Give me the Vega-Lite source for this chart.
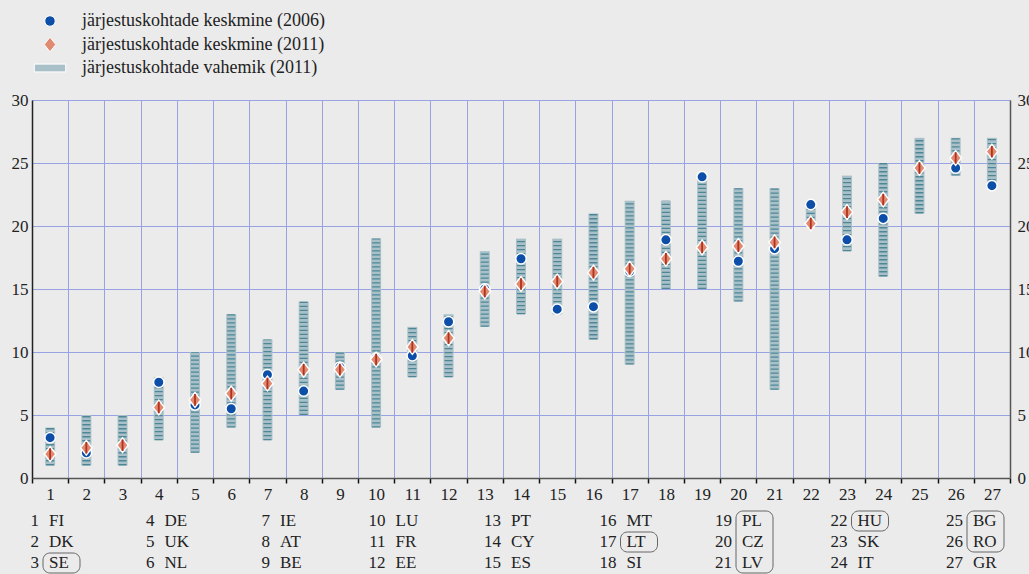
{
  "$schema": "https://vega.github.io/schema/vega-lite/v6.json",
  "autosize": {"type": "none"},
  "padding": {"left": 32, "top": 100, "right": 19, "bottom": 96},
  "width": 978,
  "height": 378,
  "background": "#ebebeb",
  "config": {
    "view": {"stroke": null},
    "font": "Liberation Serif",
    "text": {"font": "Liberation Serif"}
  },
  "datasets": {
    "main": [
      {"n": 1, "lo": 1, "hi": 4, "k2006": 3.2, "k2011": 1.9},
      {"n": 2, "lo": 1, "hi": 5, "k2006": 2.0, "k2011": 2.4},
      {"n": 3, "lo": 1, "hi": 5, "k2006": null, "k2011": 2.6},
      {"n": 4, "lo": 3, "hi": 8, "k2006": 7.6, "k2011": 5.6},
      {"n": 5, "lo": 2, "hi": 10, "k2006": 5.8, "k2011": 6.2},
      {"n": 6, "lo": 4, "hi": 13, "k2006": 5.5, "k2011": 6.7},
      {"n": 7, "lo": 3, "hi": 11, "k2006": 8.2, "k2011": 7.5},
      {"n": 8, "lo": 5, "hi": 14, "k2006": 6.9, "k2011": 8.6},
      {"n": 9, "lo": 7, "hi": 10, "k2006": 8.8, "k2011": 8.6},
      {"n": 10, "lo": 4, "hi": 19, "k2006": 9.5, "k2011": 9.4},
      {"n": 11, "lo": 8, "hi": 12, "k2006": 9.7, "k2011": 10.4},
      {"n": 12, "lo": 8, "hi": 13, "k2006": 12.4, "k2011": 11.1},
      {"n": 13, "lo": 12, "hi": 18, "k2006": 15.0, "k2011": 14.8},
      {"n": 14, "lo": 13, "hi": 19, "k2006": 17.4, "k2011": 15.4},
      {"n": 15, "lo": 13, "hi": 19, "k2006": 13.4, "k2011": 15.6},
      {"n": 16, "lo": 11, "hi": 21, "k2006": 13.6, "k2011": 16.3},
      {"n": 17, "lo": 9, "hi": 22, "k2006": 16.4, "k2011": 16.6},
      {"n": 18, "lo": 15, "hi": 22, "k2006": 18.9, "k2011": 17.4},
      {"n": 19, "lo": 15, "hi": 24, "k2006": 23.9, "k2011": 18.3},
      {"n": 20, "lo": 14, "hi": 23, "k2006": 17.2, "k2011": 18.4},
      {"n": 21, "lo": 7, "hi": 23, "k2006": 18.2, "k2011": 18.7},
      {"n": 22, "lo": 20, "hi": 22, "k2006": 21.7, "k2011": 20.2},
      {"n": 23, "lo": 18, "hi": 24, "k2006": 18.9, "k2011": 21.1},
      {"n": 24, "lo": 16, "hi": 25, "k2006": 20.6, "k2011": 22.1},
      {"n": 25, "lo": 21, "hi": 27, "k2006": null, "k2011": 24.6},
      {"n": 26, "lo": 24, "hi": 27, "k2006": 24.6, "k2011": 25.4},
      {"n": 27, "lo": 23, "hi": 27, "k2006": 23.2, "k2011": 25.9}
    ],
    "countries": [
      {"col": 0, "row": 1, "num": "1", "code": "FI"},
      {"col": 0, "row": 2, "num": "2", "code": "DK"},
      {"col": 0, "row": 3, "num": "3", "code": "SE"},
      {"col": 1, "row": 1, "num": "4", "code": "DE"},
      {"col": 1, "row": 2, "num": "5", "code": "UK"},
      {"col": 1, "row": 3, "num": "6", "code": "NL"},
      {"col": 2, "row": 1, "num": "7", "code": "IE"},
      {"col": 2, "row": 2, "num": "8", "code": "AT"},
      {"col": 2, "row": 3, "num": "9", "code": "BE"},
      {"col": 3, "row": 1, "num": "10", "code": "LU"},
      {"col": 3, "row": 2, "num": "11", "code": "FR"},
      {"col": 3, "row": 3, "num": "12", "code": "EE"},
      {"col": 4, "row": 1, "num": "13", "code": "PT"},
      {"col": 4, "row": 2, "num": "14", "code": "CY"},
      {"col": 4, "row": 3, "num": "15", "code": "ES"},
      {"col": 5, "row": 1, "num": "16", "code": "MT"},
      {"col": 5, "row": 2, "num": "17", "code": "LT"},
      {"col": 5, "row": 3, "num": "18", "code": "SI"},
      {"col": 6, "row": 1, "num": "19", "code": "PL"},
      {"col": 6, "row": 2, "num": "20", "code": "CZ"},
      {"col": 6, "row": 3, "num": "21", "code": "LV"},
      {"col": 7, "row": 1, "num": "22", "code": "HU"},
      {"col": 7, "row": 2, "num": "23", "code": "SK"},
      {"col": 7, "row": 3, "num": "24", "code": "IT"},
      {"col": 8, "row": 1, "num": "25", "code": "BG"},
      {"col": 8, "row": 2, "num": "26", "code": "RO"},
      {"col": 8, "row": 3, "num": "27", "code": "GR"}
    ],
    "boxes": [
      {"col": 0, "r0": 3, "r1": 3},
      {"col": 5, "r0": 2, "r1": 2},
      {"col": 6, "r0": 1, "r1": 3},
      {"col": 7, "r0": 1, "r1": 1},
      {"col": 8, "r0": 1, "r1": 2}
    ]
  },
  "layer": [
    {
      "data": {"name": "main"},
      "encoding": {
        "x": {
          "field": "n",
          "type": "ordinal",
          "scale": {"paddingInner": 0, "paddingOuter": 0},
          "axis": {
            "title": null,
            "labelAngle": 0,
            "labelFont": "Liberation Serif",
            "labelFontSize": 17,
            "labelColor": "#222222",
            "labelPadding": 3,
            "tickBand": "extent",
            "ticks": true,
            "tickColor": "#111111",
            "tickSize": 5,
            "tickWidth": 1.5,
            "domainColor": "#555555",
            "domainWidth": 1.5,
            "grid": true,
            "gridColor": "#99a3e3",
            "gridWidth": 1
          }
        }
      },
      "resolve": {"axis": {"y": "independent"}},
      "layer": [
        {
          "mark": {"type": "rule", "strokeWidth": 10, "color": "#a9c0c8"},
          "encoding": {
            "y": {
              "field": "lo",
              "type": "quantitative",
              "scale": {"domain": [0, 30], "nice": false, "zero": true},
              "axis": {
                "title": null,
                "values": [0, 5, 10, 15, 20, 25, 30],
                "labelFont": "Liberation Serif",
                "labelFontSize": 17,
                "labelColor": "#222222",
                "labelPadding": 4,
                "ticks": false,
                "domainColor": "#222222",
                "domainWidth": 1.5,
                "grid": true,
                "gridColor": "#99a3e3",
                "gridWidth": 1
              }
            },
            "y2": {"field": "hi"}
          }
        },
        {
          "mark": {"type": "rule", "strokeWidth": 8, "color": "#4d8795", "strokeDash": [1.3, 2.7]},
          "encoding": {
            "y": {
              "field": "lo",
              "type": "quantitative",
              "scale": {"domain": [0, 30], "nice": false},
              "axis": {
                "orient": "right",
                "title": null,
                "values": [0, 5, 10, 15, 20, 25, 30],
                "labelFont": "Liberation Serif",
                "labelFontSize": 17,
                "labelColor": "#222222",
                "labelPadding": 7,
                "ticks": false,
                "domainColor": "#555555",
                "domainWidth": 1.5,
                "grid": false
              }
            },
            "y2": {"field": "hi"}
          }
        },
        {
          "transform": [{"fold": ["k2006", "k2011"], "as": ["series", "value"]}],
          "mark": {"type": "point", "filled": true, "size": 110, "stroke": "white", "strokeWidth": 1.5, "opacity": 1},
          "encoding": {
            "y": {"field": "value", "type": "quantitative", "scale": {"domain": [0, 30], "nice": false}, "axis": null},
            "color": {
              "field": "series",
              "type": "nominal",
              "scale": {"domain": ["k2006", "k2011", "range"], "range": ["#0d4fa8", "#e08a72", "#a9c0c8"]},
              "legend": {
                "orient": "none",
                "legendX": 9,
                "legendY": -88,
                "title": null,
                "padding": 0,
                "symbolSize": 110,
                "symbolStrokeColor": "white",
                "symbolStrokeWidth": 1,
                "labelFont": "Liberation Serif",
                "labelFontSize": 18,
                "labelColor": "#222222",
                "labelOffset": 23,
                "labelLimit": 0,
                "rowPadding": 4.5,
                "labelExpr": "datum.value == 'k2006' ? 'järjestuskohtade keskmine (2006)' : datum.value == 'k2011' ? 'järjestuskohtade keskmine (2011)' : 'järjestuskohtade vahemik (2011)'"
              }
            },
            "shape": {
              "field": "series",
              "type": "nominal",
              "scale": {"domain": ["k2006", "k2011", "range"], "range": ["circle", "M-1.1,0L0,-1.4L1.1,0L0,1.4Z", "M-3,-0.75H3V0.75H-3Z"]}
            }
          }
        },
        {
          "mark": {"type": "point", "filled": false, "size": 110, "shape": "M0,-1.1L0,1.1", "stroke": "#b0321f", "strokeWidth": 1.8, "opacity": 1},
          "encoding": {
            "y": {"field": "k2011", "type": "quantitative", "scale": {"domain": [0, 30], "nice": false}, "axis": null}
          }
        }
      ]
    },
    {
      "layer": [
        {
          "data": {"name": "boxes"},
          "mark": {"type": "rect", "fill": null, "fillOpacity": 0, "stroke": "#666666", "strokeWidth": 1, "cornerRadius": 7, "xOffset": 4, "x2Offset": 41, "yOffset": -10, "y2Offset": 10},
          "encoding": {
            "x": {"field": "col", "type": "quantitative", "scale": {"domain": [0, 8], "range": [7, 931], "zero": false, "nice": false}, "axis": null},
            "x2": {"field": "col"},
            "y": {"field": "r0", "type": "quantitative", "scale": {"domain": [1, 3], "range": [421, 463], "zero": false, "nice": false}, "axis": null},
            "y2": {"field": "r1"}
          }
        },
        {
          "data": {"name": "countries"},
          "mark": {"type": "text", "align": "right", "baseline": "middle", "font": "Liberation Serif", "fontSize": 17, "color": "#222222"},
          "encoding": {
            "x": {"field": "col", "type": "quantitative", "scale": {"domain": [0, 8], "range": [7, 931], "zero": false, "nice": false}, "axis": null},
            "y": {"field": "row", "type": "quantitative", "scale": {"domain": [1, 3], "range": [421, 463], "zero": false, "nice": false}, "axis": null},
            "text": {"field": "num"}
          }
        },
        {
          "data": {"name": "countries"},
          "mark": {"type": "text", "align": "left", "baseline": "middle", "dx": 10, "font": "Liberation Serif", "fontSize": 17, "color": "#222222"},
          "encoding": {
            "x": {"field": "col", "type": "quantitative", "scale": {"domain": [0, 8], "range": [7, 931], "zero": false, "nice": false}, "axis": null},
            "y": {"field": "row", "type": "quantitative", "scale": {"domain": [1, 3], "range": [421, 463], "zero": false, "nice": false}, "axis": null},
            "text": {"field": "code"}
          }
        }
      ]
    }
  ],
  "resolve": {"scale": {"x": "independent", "y": "independent"}}
}
